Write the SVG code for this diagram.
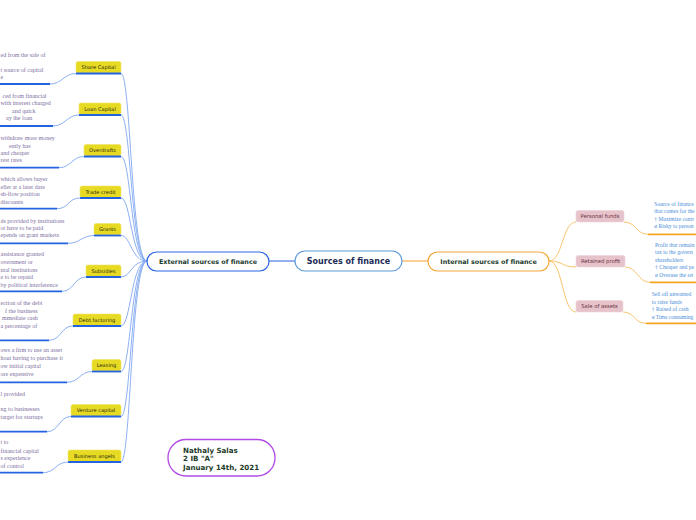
<svg xmlns="http://www.w3.org/2000/svg" width="696" height="520" viewBox="0 0 696 520">
<style>
.bg{fill:#ffffff}
.lc{fill:none;stroke:#7fa7f2;stroke-width:0.9}
.rc{fill:none;stroke:#f7bd5c;stroke-width:0.9}
.bu{stroke:#2463e0;stroke-width:1.8;fill:none}
.ou{stroke:#f5a623;stroke-width:1.8;fill:none}
.yb{fill:#e7da22;stroke:#efe46a;stroke-width:0.6}
.pb{fill:#e6c3cb;stroke:#eed3d8;stroke-width:0.6}
.yl{font-family:"DejaVu Sans",Verdana,sans-serif;font-size:5.1px;fill:#2a2a14;text-anchor:middle}
.pl{font-family:"DejaVu Sans",Verdana,sans-serif;font-size:5.3px;fill:#6b3040;text-anchor:middle}
.lt{font-family:"Liberation Serif","Times New Roman",serif;font-size:6px;fill:#7c6ea0}
.rt{font-family:"Liberation Serif","Times New Roman",serif;font-size:5.6px;fill:#4a8ed8}
.mt{font-family:"DejaVu Sans",Verdana,sans-serif;font-weight:bold;text-anchor:middle}
</style>
<rect class="bg" x="0" y="0" width="696" height="520"/>

<g id="connectors">
  <path d="M269,261 H295" stroke="#3a72e0" stroke-width="1.1" fill="none"/>
  <path d="M402,261 H428" stroke="#f5a83a" stroke-width="1.1" fill="none"/>
  <path class="lc" d="M147,261 C131,261 131,73.5 121,73.5"/>
  <path class="lc" d="M147,261 C131,261 131,115 121,115"/>
  <path class="lc" d="M147,261 C131,261 131,156.5 121,156.5"/>
  <path class="lc" d="M147,261 C131,261 131,198 121,198"/>
  <path class="lc" d="M147,261 C131,261 131,235.5 121,235.5"/>
  <path class="lc" d="M147,261 C131,261 131,277 121,277"/>
  <path class="lc" d="M147,261 C131,261 131,326 121,326"/>
  <path class="lc" d="M147,261 C131,261 131,371.5 121,371.5"/>
  <path class="lc" d="M147,261 C131,261 131,416.5 121,416.5"/>
  <path class="lc" d="M147,261 C131,261 131,462 121,462"/>
  <path class="lc" d="M50,84 C62,84 64,73.5 76,73.5"/>
  <path class="lc" d="M53,126 C65,126 67,115 79,115"/>
  <path class="lc" d="M59,167.7 C71,167.7 72,156.5 84,156.5"/>
  <path class="lc" d="M57,208.7 C69,208.7 68,198 80,198"/>
  <path class="lc" d="M68,243.3 C80,243.3 82,235.5 94,235.5"/>
  <path class="lc" d="M62,291.3 C74,291.3 74,277 86,277"/>
  <path class="lc" d="M49,340.3 C61,340.3 61,326 73,326"/>
  <path class="lc" d="M67,382.3 C79,382.3 80,371.5 92,371.5"/>
  <path class="lc" d="M47,431.7 C59,431.7 59,416.5 71,416.5"/>
  <path class="lc" d="M43,472.7 C55,472.7 56,462 68,462"/>
  <path class="rc" d="M549,261 C563,261 562,222 576,222"/>
  <path class="rc" d="M549,261 C563,261 562,267 576,267"/>
  <path class="rc" d="M549,261 C563,261 562,312 576,312"/>
  <path class="rc" d="M624,222 C636,222 636,234.3 648,234.3"/>
  <path class="rc" d="M625,267 C637,267 638,282.3 650,282.3"/>
  <path class="rc" d="M623,312 C635,312 634,323.3 646,323.3"/>
</g>

<g id="central">
  <rect x="295" y="251" width="107" height="20" rx="10" fill="#ffffff" stroke="#5e9bd8" stroke-width="1.2"/>
  <text class="mt" x="348.5" y="264" font-size="8" fill="#1c2b55">Sources of finance</text>
</g>
<g id="external">
  <rect x="147" y="252" width="122" height="19" rx="9.5" fill="#ffffff" stroke="#2b67e3" stroke-width="1.2"/>
  <text class="mt" x="208" y="263.5" font-size="6.4" fill="#1b3b2b">External sources of finance</text>
</g>
<g id="internal">
  <rect x="428" y="252" width="121" height="19" rx="9.5" fill="#ffffff" stroke="#f5a83a" stroke-width="1.2"/>
  <text class="mt" x="488.5" y="263.5" font-size="6.4" fill="#1b3b2b">Internal sources of finance</text>
</g>

<g id="share-capital">
  <rect class="yb" x="76" y="61.5" width="45" height="11.5" rx="2"/>
  <text class="yl" x="98.5" y="69.3">Share Capital</text>
  <path class="bu" d="M76,73.5 H121"/>
  <path class="bu" d="M0,84 H50"/>
  <text class="lt" x="0.5" y="57.2">ed from the sale of</text>
  <text class="lt" x="0.5" y="71.8">t source of capital</text>
  <text class="lt" x="0.5" y="79.2">e</text>
</g>
<g id="loan-capital">
  <rect class="yb" x="79" y="103" width="42" height="11.5" rx="2"/>
  <text class="yl" x="100" y="110.8">Loan Capital</text>
  <path class="bu" d="M79,115 H121"/>
  <path class="bu" d="M0,126 H53"/>
  <text class="lt" x="2.5" y="97.5">ced from financial</text>
  <text class="lt" x="0.5" y="105">with interest charged</text>
  <text class="lt" x="12" y="112.5">and quick</text>
  <text class="lt" x="6" y="120">ay the loan</text>
</g>
<g id="overdrafts">
  <rect class="yb" x="84" y="144.5" width="37" height="11.5" rx="2"/>
  <text class="yl" x="102.5" y="152.3">Overdrafts</text>
  <path class="bu" d="M84,156.5 H121"/>
  <path class="bu" d="M0,167.7 H59"/>
  <text class="lt" x="0.5" y="140.3">withdraw more money</text>
  <text class="lt" x="9" y="147.7">ently has</text>
  <text class="lt" x="0.5" y="154.7">and cheaper</text>
  <text class="lt" x="0.5" y="161.7">rest rates</text>
</g>
<g id="trade-credit">
  <rect class="yb" x="80" y="186" width="41" height="11.5" rx="2"/>
  <text class="yl" x="100.5" y="193.8">Trade credit</text>
  <path class="bu" d="M80,198 H121"/>
  <path class="bu" d="M0,208.7 H57"/>
  <text class="lt" x="0.5" y="181">which allows buyer</text>
  <text class="lt" x="0.5" y="188.7">eller at a later date</text>
  <text class="lt" x="0.5" y="196.3">sh-flow position</text>
  <text class="lt" x="0.5" y="203.8">discounts</text>
</g>
<g id="grants">
  <rect class="yb" x="94" y="223.5" width="27" height="11.5" rx="2"/>
  <text class="yl" x="107.5" y="231.3">Grants</text>
  <path class="bu" d="M94,235.5 H121"/>
  <path class="bu" d="M0,243.3 H68"/>
  <text class="lt" x="0.5" y="222.7">ds provided by institutions</text>
  <text class="lt" x="0.5" y="229.8">ot have to be paid</text>
  <text class="lt" x="0.5" y="237.2">epends on grant markets</text>
</g>
<g id="subsidies">
  <rect class="yb" x="86" y="265" width="35" height="11.5" rx="2"/>
  <text class="yl" x="103.5" y="272.8">Subsidies</text>
  <path class="bu" d="M86,277 H121"/>
  <path class="bu" d="M0,291.3 H62"/>
  <text class="lt" x="0.5" y="256.3">assistance granted</text>
  <text class="lt" x="0.5" y="264">overnment or</text>
  <text class="lt" x="0.5" y="271.7">ntal institutions</text>
  <text class="lt" x="0.5" y="279.2">e to be repaid</text>
  <text class="lt" x="0.5" y="286.8">by political interference</text>
</g>
<g id="debt-factoring">
  <rect class="yb" x="73" y="314" width="48" height="11.5" rx="2"/>
  <text class="yl" x="97" y="321.8">Debt factoring</text>
  <path class="bu" d="M73,326 H121"/>
  <path class="bu" d="M0,340.3 H49"/>
  <text class="lt" x="0.5" y="305.3">ection of the debt</text>
  <text class="lt" x="5" y="312.8">f the business</text>
  <text class="lt" x="2" y="320.3">mmediate cash</text>
  <text class="lt" x="0.5" y="327.8">a percentage of</text>
</g>
<g id="leasing">
  <rect class="yb" x="92" y="359.5" width="29" height="11.5" rx="2"/>
  <text class="yl" x="106.5" y="367.3">Leasing</text>
  <path class="bu" d="M92,371.5 H121"/>
  <path class="bu" d="M0,382.3 H67"/>
  <text class="lt" x="0.5" y="352">ows a firm to use an asset</text>
  <text class="lt" x="0.5" y="359.9">hout having to purchase it</text>
  <text class="lt" x="0.5" y="367.8">ow initial capital</text>
  <text class="lt" x="0.5" y="375.8">ore expensive</text>
</g>
<g id="venture-capital">
  <rect class="yb" x="71" y="404.5" width="50" height="11.5" rx="2"/>
  <text class="yl" x="96" y="412.3">Venture capital</text>
  <path class="bu" d="M71,416.5 H121"/>
  <path class="bu" d="M0,431.7 H47"/>
  <text class="lt" x="0.5" y="396">l provided</text>
  <text class="lt" x="0.5" y="411">ng to businesses</text>
  <text class="lt" x="0.5" y="418.6">target for startups</text>
</g>
<g id="business-angels">
  <rect class="yb" x="68" y="450" width="53" height="11.5" rx="2"/>
  <text class="yl" x="94.5" y="457.8">Business angels</text>
  <path class="bu" d="M68,462 H121"/>
  <path class="bu" d="M0,472.7 H43"/>
  <text class="lt" x="0.5" y="444.3">t to</text>
  <text class="lt" x="0.5" y="452.5">financial capital</text>
  <text class="lt" x="0.5" y="460.3">s experience</text>
  <text class="lt" x="0.5" y="467.8">of control</text>
</g>

<g id="personal-funds">
  <rect class="pb" x="576" y="210.5" width="48" height="11.5" rx="2"/>
  <text class="pl" x="600" y="218.3">Personal funds</text>
  <path class="ou" d="M648,234.3 H696"/>
  <text class="rt" x="654.3" y="206.1">Source of finance</text>
  <text class="rt" x="654.3" y="213.3">that comes for the</text>
  <text class="rt" x="654.3" y="220.8">† Maximize contr</text>
  <text class="rt" x="654.3" y="228.1">ø Risky to person</text>
</g>
<g id="retained-profit">
  <rect class="pb" x="576" y="255.5" width="49" height="11.5" rx="2"/>
  <text class="pl" x="600.5" y="263.3">Retained profit</text>
  <path class="ou" d="M650,282.3 H696"/>
  <text class="rt" x="655" y="246.8">Profit that remain</text>
  <text class="rt" x="655" y="254.3">tax to the govern</text>
  <text class="rt" x="655" y="261.8">shareholders</text>
  <text class="rt" x="655" y="269.3">† Cheaper and pe</text>
  <text class="rt" x="655" y="276.8">ø Overuse the ret</text>
</g>
<g id="sale-of-assets">
  <rect class="pb" x="576" y="300.5" width="47" height="11.5" rx="2"/>
  <text class="pl" x="599.5" y="308.3">Sale of assets</text>
  <path class="ou" d="M646,323.3 H696"/>
  <text class="rt" x="651.7" y="295.8">Sell off unwanted</text>
  <text class="rt" x="651.7" y="303.5">to raise funds</text>
  <text class="rt" x="651.7" y="310.8">† Raised of cash</text>
  <text class="rt" x="651.7" y="318.5">ø Time consuming</text>
</g>

<g id="author">
  <rect x="168" y="439.5" width="107" height="36.5" rx="18" fill="#ffffff" stroke="#b14ae6" stroke-width="1.3"/>
  <text x="183" y="452.5" font-family="DejaVu Sans,Verdana,sans-serif" font-weight="bold" font-size="7.1" fill="#1d3b28">Nathaly Salas</text>
  <text x="183" y="461.2" font-family="DejaVu Sans,Verdana,sans-serif" font-weight="bold" font-size="7.1" fill="#1d3b28">2 IB "A"</text>
  <text x="183" y="470" font-family="DejaVu Sans,Verdana,sans-serif" font-weight="bold" font-size="7.1" fill="#1d3b28">January 14th, 2021</text>
</g>
</svg>
